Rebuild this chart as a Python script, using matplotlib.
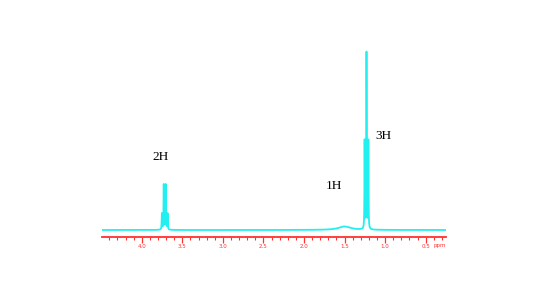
import numpy as np
import matplotlib
matplotlib.use("Agg")
import matplotlib.pyplot as plt
from matplotlib.ticker import MultipleLocator, FixedLocator

# Peak list (ppm, peak height, half-width at half-maximum in ppm)
peak_ppm = [3.752, 3.729, 3.705, 3.682, 1.500, 1.253, 1.230, 1.207]
peak_height = [16, 45, 45, 16, 3.5, 88, 176, 88]
peak_hwhm = [0.003, 0.003, 0.003, 0.003, 0.09, 0.0025, 0.0025, 0.0025]

tick_values = [4.0, 3.5, 3.0, 2.5, 2.0, 1.5, 1.0, 0.5]
tick_labels = ["4.0", "3.5", "3.0", "2.5", "2.0", "1.5", "1.0", "0.5"]

label_text = ["2H", "1H", "3H"]
label_ppm = [3.763, 1.630, 1.026]
label_y = [73, 44, 94]

W, H = 548, 303
fig = plt.figure(figsize=(W / 100, H / 100), dpi=100)
left, right, bottom, top = 102, 446, 237, 50
ax = fig.add_axes([left / W, (H - bottom) / H, (right - left) / W, (bottom - top) / H])

x = np.linspace(4.49, 0.25, 40000)
y = np.zeros_like(x)
for c, h, w in zip(peak_ppm, peak_height, peak_hwhm):
    y += h * w**2 / ((x - c) ** 2 + w**2)

ax.plot(x, y, color="#22f0f0", lw=1.3)
ax.set_xlim(4.49, 0.25)
ax.set_ylim(-7, 180)

for s in ["top", "left", "right"]:
    ax.spines[s].set_visible(False)
ax.spines["bottom"].set_color("#ff3030")
ax.spines["bottom"].set_linewidth(1.3)
ax.set_yticks([])
ax.xaxis.set_major_locator(FixedLocator(tick_values))
ax.set_xticklabels(tick_labels)
ax.xaxis.set_minor_locator(MultipleLocator(0.1))
ax.tick_params(axis="x", which="major", colors="#ff3030", length=4, width=0.9,
               labelsize=4, pad=1)
ax.tick_params(axis="x", which="minor", colors="#ff3030", length=2, width=0.8)

ax.text(0.33, -16, "ppm", color="#ff3030", fontsize=4, ha="center", va="center")

for t, px, py in zip(label_text, label_ppm, label_y):
    ax.text(px, py, t, fontsize=9.5, family="Liberation Serif", ha="center", va="center")

fig.savefig("out.png", dpi=100)
